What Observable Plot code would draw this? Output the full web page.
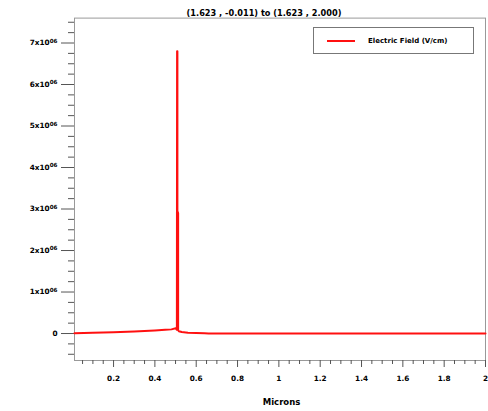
<!DOCTYPE html>
<html>
<head>
<meta charset="utf-8">
<script src="https://cdn.jsdelivr.net/npm/d3@7"></script>
<script src="https://cdn.jsdelivr.net/npm/@observablehq/plot@0.6"></script>
<style>
  html, body { margin: 0; padding: 0; background: #fff; }
  #chart { width: 488px; height: 411px; overflow: hidden; }
</style>
</head>
<body>
<div id="chart"></div>
<script>
// Electric field cut line data (microns vs V/cm)
const microns = [0.011, 0.1, 0.2, 0.3, 0.4, 0.45, 0.48, 0.501, 0.5065, 0.5075, 0.509, 0.509, 0.5125, 0.5125, 0.516, 0.53, 0.56, 0.6, 0.64, 0.66, 1.0, 1.5, 2.0];
const field   = [5000, 18000, 32000, 50000, 72000, 88000, 100000, 125000, 90000, 6800000, 6800000, 2950000, 2900000, 80000, 55000, 35000, 20000, 10000, 4000, 0, 0, 0, 0];

const title = "(1.623 , -0.011) to (1.623 , 2.000)";
const xLabel = "Microns";
const seriesName = "Electric Field (V/cm)";

const xMajorTicks = [0.2, 0.4, 0.6, 0.8, 1.0, 1.2, 1.4, 1.6, 1.8, 2.0];
const xMajorLabels = ["0.2", "0.4", "0.6", "0.8", "1", "1.2", "1.4", "1.6", "1.8", "2"];
const yMajorTicks = [0, 1e6, 2e6, 3e6, 4e6, 5e6, 6e6, 7e6];
const yLabelBase = ["0", "1x10", "2x10", "3x10", "4x10", "5x10", "6x10", "7x10"];
const yLabelExp  = ["", "06", "06", "06", "06", "06", "06", "06"];

const xMinorTicks = d3.range(1, 40).map(i => i * 0.05).filter(v => !xMajorTicks.some(m => Math.abs(m - v) < 1e-9));
const yMinorTicks = d3.range(-2, 31).map(i => i * 0.25e6).filter(v => !yMajorTicks.includes(v));

const data = microns.map((x, i) => ({x, y: field[i]}));

const tickColor = "#555";
const font = "'DejaVu Sans', Verdana, sans-serif";

const chart = Plot.plot({
  width: 488,
  height: 411,
  marginTop: 17.6,
  marginBottom: 51,
  marginLeft: 74,
  marginRight: 3,
  x: {domain: [0.011, 2.0]},
  y: {domain: [-0.65e6, 7.6e6]},
  style: {fontFamily: font, fontWeight: "bold", fontSize: "7.3px", color: "#000", background: "#fff"},
  marks: [
    Plot.frame({stroke: "#999", strokeWidth: 1}),
    Plot.axisY(yMinorTicks, {tickSize: 6, tickFormat: () => "", label: null, stroke: tickColor}),
    Plot.axisY(yMajorTicks, {tickSize: 13, tickPadding: 4, tickFormat: d => "§" + yMajorTicks.indexOf(d), label: null, stroke: tickColor, ariaLabel: "y-major"}),
    Plot.axisX(xMinorTicks, {tickSize: 4, tickFormat: () => "", label: null, stroke: tickColor}),
    Plot.axisX(xMajorTicks, {tickSize: 7, tickPadding: 8, tickFormat: d => xMajorLabels[xMajorTicks.indexOf(d)], label: null, stroke: tickColor}),
    Plot.line(data, {x: "x", y: "y", stroke: "#ff1010", strokeWidth: 2}),
    Plot.text([title], {frameAnchor: "top", dx: -16, dy: -8, fontSize: 8.2, fontWeight: "bold", fill: "#000"}),
    Plot.text([xLabel], {frameAnchor: "bottom", dx: 1.5, dy: 44, fontSize: 8.5, fontWeight: "bold", fill: "#000"})
  ]
});

// Y labels with superscript exponent
d3.select(chart).selectAll("text").each(function() {
  const t = d3.select(this);
  const s = t.text();
  if (s.startsWith("§")) {
    const i = +s.slice(1);
    t.text(null);
    t.append("tspan").text(yLabelBase[i]);
    if (yLabelExp[i]) {
      t.append("tspan").attr("dy", "-0.45em").attr("font-size", "5.6px").text(yLabelExp[i]);
    }
  }
});

// Legend box
const svg = d3.select(chart);
const lg = svg.append("g").attr("class", "legend");
lg.append("rect").attr("x", 313.5).attr("y", 27.5).attr("width", 160).attr("height", 26)
  .attr("fill", "#fff").attr("stroke", "#777").attr("stroke-width", 1);
lg.append("line").attr("x1", 327).attr("x2", 355).attr("y1", 41).attr("y2", 41)
  .attr("stroke", "#ff1010").attr("stroke-width", 2);
lg.append("text").attr("x", 368).attr("y", 41).attr("dy", "0.35em").attr("text-anchor", "start")
  .attr("font-size", 7).attr("font-weight", "bold").attr("fill", "#000").text(seriesName);

document.getElementById("chart").appendChild(chart);
</script>
</body>
</html>
